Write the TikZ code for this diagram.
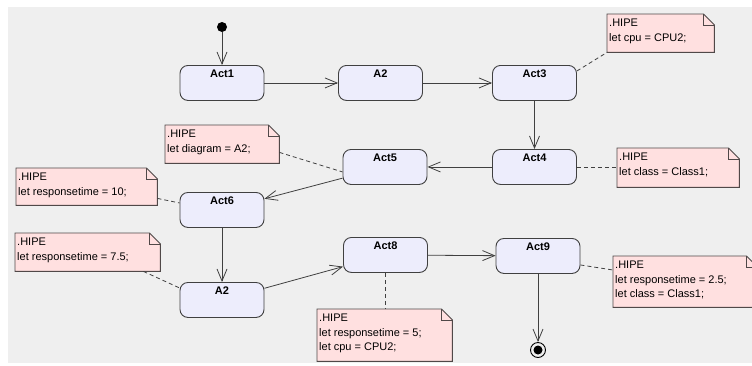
\documentclass[tikz,border=0pt]{standalone}
\usepackage{fontspec}
\setmainfont{Liberation Sans}
\usetikzlibrary{arrows.meta,backgrounds}

\definecolor{canvas}{RGB}{239,239,239}
\definecolor{actfill}{RGB}{237,237,252}
\definecolor{notefill}{RGB}{255,224,224}
\definecolor{edge}{RGB}{64,64,64}
\definecolor{noteedge}{RGB}{80,72,72}

\begin{document}
\begin{tikzpicture}[x=1pt,y=-1pt,
  font=\fontsize{11}{14.5}\selectfont,
  actbox/.style={draw=edge, line width=0.9pt, fill=actfill, rounded corners=8pt,
    minimum width=84pt, inner xsep=2pt, inner ysep=2pt,
    text height=10pt, text depth=21pt, anchor=north,
    font=\fontsize{11}{14.5}\selectfont\bfseries},
  notebody/.style={inner sep=0pt, anchor=north west},
  notetext/.style={inner sep=0pt, anchor=north west, align=left,
    font=\fontsize{11}{14.5}\selectfont},
  flow/.style={draw=edge, line width=0.8pt,
    -{Straight Barb[length=12pt,width=10pt,line width=0.8pt]}},
  link/.style={draw=edge, line width=0.8pt, dash pattern=on 4pt off 3pt},
]
\useasboundingbox (0,0) rectangle (752,365);

% activities
\node[actbox] (act1)  at (222,65)    {Act1};
\node[actbox] (a2top) at (380.5,65)  {A2};
\node[actbox] (act3)  at (534.5,65)  {Act3};
\node[actbox] (act4)  at (534.5,149) {Act4};
\node[actbox] (act5)  at (385,149)   {Act5};
\node[actbox] (act6)  at (222,192)   {Act6};
\node[actbox] (a2low) at (222,282)   {A2};
\node[actbox] (act8)  at (385.5,237) {Act8};
\node[actbox] (act9)  at (538,238)   {Act9};

% initial and final states
\node[circle, fill=black, inner sep=0pt, minimum size=10pt] (start) at (222,27) {};
\node[circle, draw=black, line width=0.9pt, fill=canvas, inner sep=0pt,
      minimum size=15pt] (end) at (538,350) {};
\node[circle, fill=black, inner sep=0pt, minimum size=9pt] (endcore) at (end) {};

% note bodies (outlines drawn on the background layer)
\node[notebody, minimum width=107pt, minimum height=38pt] (n3) at (607,14)  {};
\node[notebody, minimum width=122pt, minimum height=39pt] (n4) at (617,148) {};
\node[notebody, minimum width=114pt, minimum height=38pt] (n5) at (165,125) {};
\node[notebody, minimum width=141pt, minimum height=37pt] (n6) at (16,168)  {};
\node[notebody, minimum width=145pt, minimum height=38pt] (n7) at (15,233)  {};
\node[notebody, minimum width=135pt, minimum height=52pt] (n8) at (317,309) {};
\node[notebody, minimum width=144pt, minimum height=51pt] (n9) at (613,256) {};

% note texts
\node[notetext] (n3t) at ([shift={(2pt,-5pt)}]n3.north west) {.HIPE\\let cpu = CPU2;};
\node[notetext] (n4t) at ([shift={(2pt,-5pt)}]n4.north west) {.HIPE\\let class = Class1;};
\node[notetext] (n5t) at ([shift={(2pt,-5pt)}]n5.north west) {.HIPE\\let diagram = A2;};
\node[notetext] (n6t) at ([shift={(2pt,-5pt)}]n6.north west) {.HIPE\\let responsetime = 10;};
\node[notetext] (n7t) at ([shift={(2pt,-5pt)}]n7.north west) {.HIPE\\let responsetime = 7.5;};
\node[notetext] (n8t) at ([shift={(2pt,-5pt)}]n8.north west) {.HIPE\\let responsetime = 5;\\let cpu = CPU2;};
\node[notetext] (n9t) at ([shift={(2pt,-5pt)}]n9.north west) {.HIPE\\let responsetime = 2.5;\\let class = Class1;};

% control flow
\draw[flow] (start) -- (start |- act1.north);
\draw[flow] (act1) -- (a2top);
\draw[flow] (a2top) -- (act3);
\draw[flow] (act3) -- (act4);
\draw[flow] (act4) -- (act5);
\draw[flow] (act5) -- (act6);
\draw[flow] (act6) -- (a2low);
\draw[flow] (a2low) -- (act8);
\draw[flow] (act8) -- (act9);
\draw[flow] (act9) -- (end);

% note attachments
\draw[link] ([yshift=12pt]act3.east) -- (n3.south west);
\draw[link] (act4.east) -- (act4.east -| n4.west);
\draw[link] ([yshift=11pt]n5.south east) -- ([yshift=-5pt]act5.west);
\draw[link] ([yshift=7pt]n6.south east) -- ([yshift=7pt]act6.west);
\draw[link] ([xshift=-17pt]n7.south east) -- ([yshift=12pt]a2low.west);
\draw[link] (act8.south) -- (act8.south |- n8.north);
\draw[link] ([yshift=-9pt]act9.east) -- ([yshift=-14pt]n9.north west);

\begin{scope}[on background layer]
  \clip (0,0) rectangle (752,365);
  \fill[canvas] (8,7) rectangle (752,363);
  \foreach \n in {n3,n4,n5,n6,n7,n8,n9}{
    \draw[draw=noteedge, line width=0.9pt, fill=notefill]
      (\n.south west) -- (\n.north west) -- ([xshift=-11pt]\n.north east)
      -- ([yshift=-11pt]\n.north east) -- (\n.south east) -- cycle;
    \draw[draw=noteedge, line width=0.7pt]
      ([xshift=-11pt]\n.north east) |- ([yshift=-11pt]\n.north east);
  }
\end{scope}
\end{tikzpicture}
\end{document}
